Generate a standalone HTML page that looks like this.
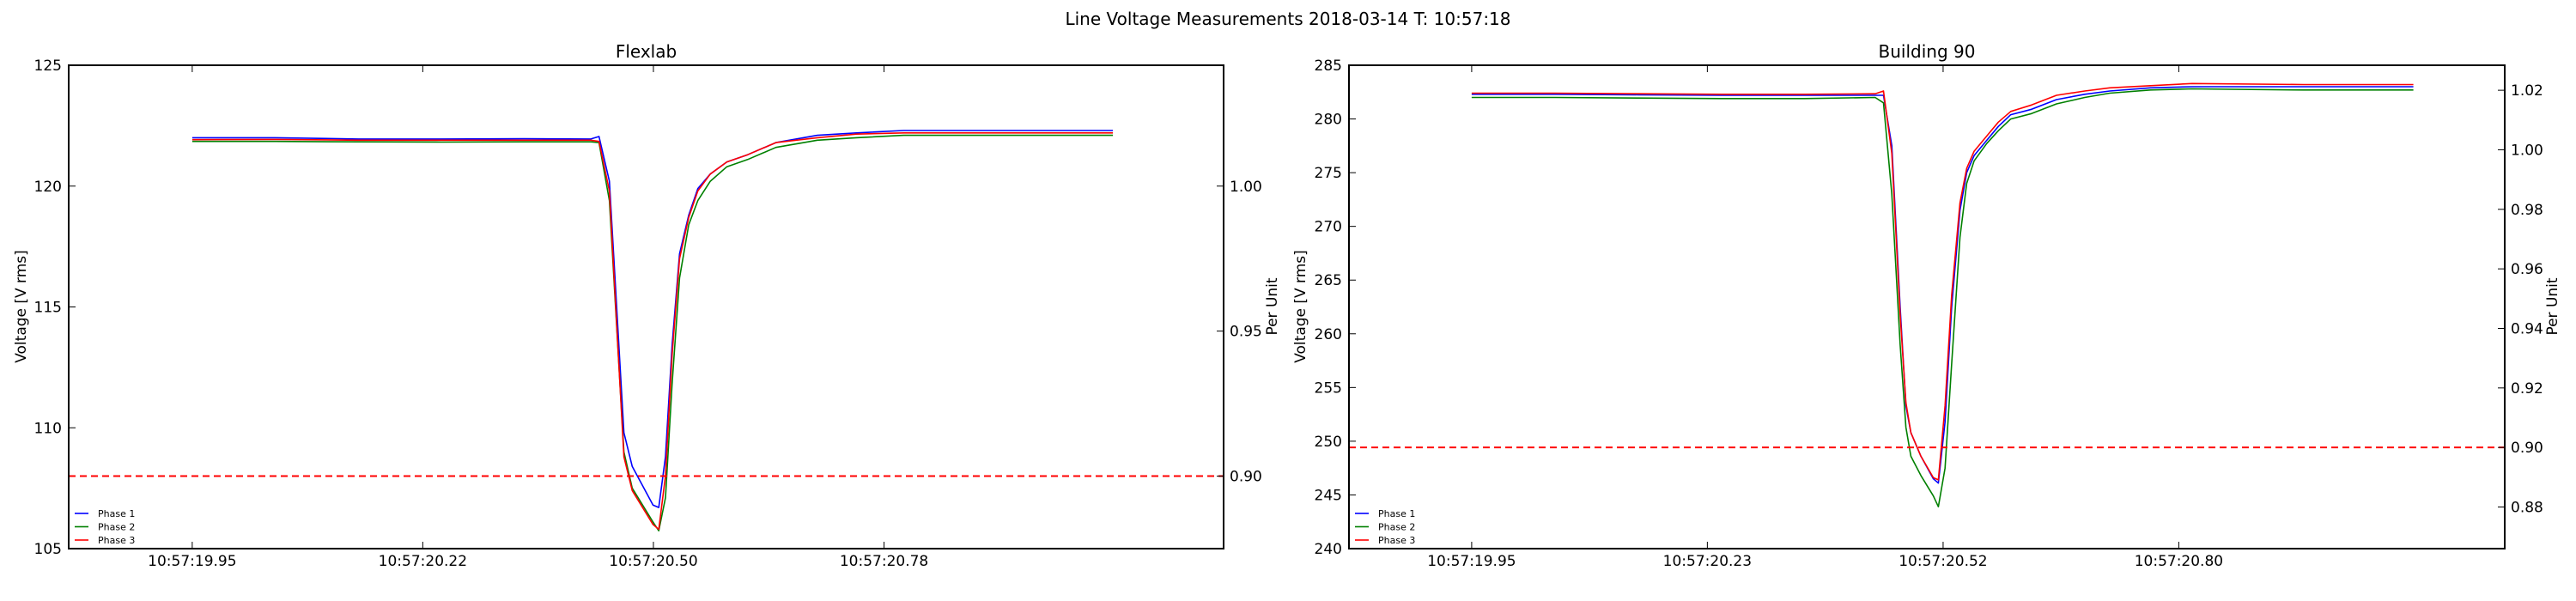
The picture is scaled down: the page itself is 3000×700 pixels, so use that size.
<!DOCTYPE html>
<html><head><meta charset="utf-8">
<style>
html,body{margin:0;padding:0;background:#fff;}
svg{display:block;font-family:"DejaVu Sans","Liberation Sans",sans-serif;}
</style></head>
<body>
<svg id="fig" width="3000" height="700" viewBox="0 0 3000 700">
<text x="1500" y="29" font-size="20" text-anchor="middle">Line Voltage Measurements 2018-03-14 T: 10:57:18</text>
</svg>
<script>
// ---- Flexlab data (seconds since 10:57:19.95) ----
const flexTimes = [0,0.1,0.2,0.3,0.4,0.48,0.49,0.5025,0.52,0.53,0.555,0.562,0.57,0.578,0.587,0.598,0.609,0.624,0.644,0.669,0.703,0.753,0.80,0.857,0.95,1.03,1.109];
const flexPhase1 = [122.0,122.0,121.95,121.95,121.96,121.95,122.05,120.2,109.8,108.4,106.8,106.7,108.8,113.4,117.2,118.8,119.9,120.5,121.0,121.3,121.8,122.1,122.2,122.3,122.3,122.3,122.3];
const flexPhase2 = [121.85,121.85,121.83,121.82,121.83,121.83,121.8,119.4,109.0,107.5,106.1,105.74,107.1,111.8,116.2,118.4,119.4,120.2,120.8,121.1,121.6,121.9,122.0,122.1,122.1,122.1,122.1];
const flexPhase3 = [121.92,121.93,121.9,121.9,121.9,121.9,121.85,119.8,108.8,107.4,106.0,105.8,108.0,113.0,117.0,118.7,119.8,120.5,121.0,121.3,121.8,122.0,122.15,122.2,122.2,122.2,122.2];
const flexXTicks = [0,0.2777,0.5555,0.8333];
const flexXLabels = ["10:57:19.95","10:57:20.22","10:57:20.50","10:57:20.78"];
const flexYTicks = [105,110,115,120,125];
const flexPUTicks = [0.90,0.95,1.00];
const flexNominal = 120;
const flexLimit = 0.9;

// ---- Building 90 data ----
const b90Times = [0,0.1,0.2,0.3,0.4,0.485,0.495,0.505,0.515,0.522,0.528,0.540,0.555,0.561,0.569,0.577,0.587,0.595,0.604,0.619,0.633,0.648,0.673,0.703,0.737,0.767,0.816,0.866,1.0,1.132];
const b90Phase1 = [282.3,282.3,282.25,282.2,282.2,282.2,282.2,277.5,262.5,253.3,250.8,248.6,246.5,246.1,251.8,262.5,271.5,275.0,276.6,278.0,279.3,280.4,280.9,281.8,282.3,282.6,282.9,283.0,283.0,283.0];
const b90Phase2 = [282.0,282.0,281.95,281.9,281.9,282.0,281.5,273.0,259.0,251.3,248.6,246.8,244.9,243.9,247.5,257.2,269.0,274.0,276.1,277.7,278.9,280.0,280.5,281.4,282.0,282.4,282.7,282.8,282.7,282.7];
const b90Phase3 = [282.4,282.4,282.35,282.3,282.3,282.35,282.6,276.8,261.8,253.6,250.8,248.6,246.6,246.4,253.3,263.6,272.2,275.4,277.0,278.4,279.7,280.7,281.3,282.2,282.6,282.9,283.1,283.3,283.2,283.2];
const b90XTicks = [0,0.2833,0.5667,0.85];
const b90XLabels = ["10:57:19.95","10:57:20.23","10:57:20.52","10:57:20.80"];
const b90YTicks = [240,245,250,255,260,265,270,275,280,285];
const b90PUTicks = [0.88,0.90,0.92,0.94,0.96,0.98,1.00,1.02];
const b90Nominal = 277.13;
const b90Limit = 0.9;

const NS = "http://www.w3.org/2000/svg";
const svg = document.getElementById('fig');
function mk(tag, attrs, parent, text){
  const e = document.createElementNS(NS, tag);
  for (const k in attrs) e.setAttribute(k, attrs[k]);
  if (text !== undefined) e.textContent = text;
  (parent || svg).appendChild(e);
  return e;
}

function drawChart(cfg){
  const L = cfg.left, R = cfg.right, T = 76, B = 639;
  const g = mk('g', {});
  
  
  const x = t => L + (t - cfg.xmin) / (cfg.xmax - cfg.xmin) * (R - L);
  const y = v => B - (v - cfg.ymin) / (cfg.ymax - cfg.ymin) * (B - T);

  const title = mk('text', {x:(L+R)/2, y:67, 'font-size':20, 'text-anchor':'middle'}, g, cfg.title);
  
  

  // series
  const series = [[cfg.p1,'#0000ff','Phase 1'],[cfg.p2,'#008000','Phase 2'],[cfg.p3,'#ff0000','Phase 3']];
  series.forEach((s, i) => {
    const pts = cfg.times.map((t, k) => x(t).toFixed(1) + ',' + y(s[0][k]).toFixed(1)).join(' ');
    const pl = mk('polyline', {points:pts, fill:'none', stroke:s[1], 'stroke-width':1.6, 'stroke-linejoin':'round'}, g);
    
    
  });

  // limit line
  const ly = y(cfg.limit * cfg.nominal);
  const lim = mk('line', {x1:L, x2:R, y1:ly, y2:ly, stroke:'#ff0000', 'stroke-width':2, 'stroke-dasharray':'8,5'}, g);
  
  

  // frame
  const fr = mk('rect', {x:L, y:T, width:R-L, height:B-T, fill:'none', stroke:'#000', 'stroke-width':2}, g);
  
  

  // x ticks
  cfg.xticks.forEach((t, i) => {
    const xx = x(t);
    mk('line', {x1:xx, x2:xx, y1:B, y2:B-8, stroke:'#000', 'stroke-width':1}, g);
    mk('line', {x1:xx, x2:xx, y1:T, y2:T+8, stroke:'#000', 'stroke-width':1}, g);
    const tl = mk('text', {x:xx, y:659, 'font-size':17, 'text-anchor':'middle'}, g, cfg.xlabels[i]);
    
    
  });
  // y ticks
  cfg.yticks.forEach(v => {
    const yy = y(v);
    mk('line', {x1:L, x2:L+8, y1:yy, y2:yy, stroke:'#000', 'stroke-width':1}, g);
    const tl = mk('text', {x:L-8, y:yy+6, 'font-size':17, 'text-anchor':'end'}, g, String(v));
    
    
  });
  // per unit ticks
  cfg.puticks.forEach(p => {
    const yy = y(p * cfg.nominal);
    mk('line', {x1:R, x2:R-8, y1:yy, y2:yy, stroke:'#000', 'stroke-width':1}, g);
    const tl = mk('text', {x:R+7, y:yy+6, 'font-size':17, 'text-anchor':'start'}, g, p.toFixed(2));
    
    
  });
  // axis labels
  const yl = mk('text', {x:0, y:0, 'font-size':17, 'text-anchor':'middle', transform:`translate(${cfg.ylabX},357) rotate(-90)`}, g, 'Voltage [V rms]');
  
  
  const pl = mk('text', {x:0, y:0, 'font-size':17, 'text-anchor':'middle', transform:`translate(${cfg.puLabX},357) rotate(-90)`}, g, 'Per Unit');
  
  

  // legend
  const lg = mk('g', {}, g);
  
  
  series.forEach((s, i) => {
    const ly2 = 598 + i * 15.5;
    const e = mk('g', {}, lg);
    
    
    mk('line', {x1:L+7, x2:L+23, y1:ly2, y2:ly2, stroke:s[1], 'stroke-width':1.6}, e);
    mk('text', {x:L+34, y:ly2+4, 'font-size':11}, e, s[2]);
  });
}

drawChart({name:'flexlab', title:'Flexlab', left:80, right:1425, xmin:-0.1488, xmax:1.2423,
  ymin:105, ymax:125, times:flexTimes, p1:flexPhase1, p2:flexPhase2, p3:flexPhase3,
  xticks:flexXTicks, xlabels:flexXLabels, yticks:flexYTicks, puticks:flexPUTicks,
  nominal:flexNominal, limit:flexLimit, ylabX:30, puLabX:1487});

drawChart({name:'building-90', title:'Building 90', left:1571, right:2917, xmin:-0.1475, xmax:1.2418,
  ymin:240, ymax:285, times:b90Times, p1:b90Phase1, p2:b90Phase2, p3:b90Phase3,
  xticks:b90XTicks, xlabels:b90XLabels, yticks:b90YTicks, puticks:b90PUTicks,
  nominal:b90Nominal, limit:b90Limit, ylabX:1520, puLabX:2978});
</script>
</body></html>
